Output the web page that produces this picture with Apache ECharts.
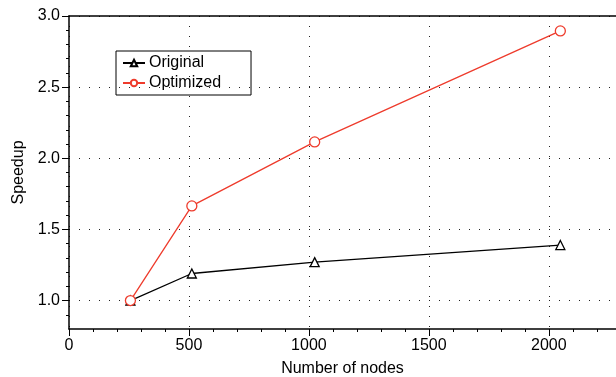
<!DOCTYPE html>
<html>
<head>
<meta charset="utf-8">
<script src="https://cdn.jsdelivr.net/npm/echarts@6/dist/echarts.min.js"></script>
<style>
  html, body { margin: 0; padding: 0; background: #fff; }
  #chart { width: 616px; height: 377px; }
</style>
</head>
<body>
<div id="chart"></div>
<script>
const nodes = [256, 512, 1024, 2048]
const original = [1.0, 1.19, 1.27, 1.39]
const optimized = [1.0, 1.665, 2.115, 2.895]

const xMajor = [0, 500, 1000, 1500, 2000]
const xMinor = [100, 200, 300, 400, 600, 700, 800, 900, 1100, 1200, 1300, 1400, 1600, 1700, 1800, 1900, 2100, 2200]
const yMajor = [1.0, 1.5, 2.0, 2.5, 3.0]
const yMinor = [0.9, 1.1, 1.2, 1.3, 1.4, 1.6, 1.7, 1.8, 1.9, 2.1, 2.2, 2.3, 2.4, 2.6, 2.7, 2.8, 2.9]

const font = 'Liberation Sans, Arial, Helvetica, sans-serif'
const fs = 16
const red = '#ee3b2c'
const dotted = { color: '#222', width: 1, type: [1, 9] }

const chart = echarts.init(document.getElementById('chart'))

chart.setOption({
  animation: false,
  textStyle: { fontFamily: font },
  grid: { left: 69, top: 16, right: 0, bottom: 48, outerBoundsMode: 'none', containLabel: false },
  legend: {
    orient: 'vertical',
    left: 116,
    top: 51,
    borderColor: '#000',
    borderWidth: 1,
    borderRadius: 0,
    padding: [4, 30, 4, 6],
    itemGap: 4,
    itemWidth: 22,
    itemHeight: 8,
    textStyle: { fontSize: fs, color: '#000', fontFamily: font, padding: [0, 0, 0, -1] },
    data: ['Original', 'Optimized'],
  },
  xAxis: [
    {
      type: 'value',
      min: 0,
      max: 2280,
      name: 'Number of nodes',
      nameLocation: 'middle',
      nameGap: 32,
      nameTextStyle: { fontSize: fs, color: '#000' },
      axisLine: { show: true, onZero: false, lineStyle: { color: '#000', width: 1.5 } },
      axisTick: { show: true, length: 7, customValues: xMajor, lineStyle: { color: '#000' } },
      axisLabel: { customValues: xMajor, fontSize: fs, color: '#000', margin: 9, formatter: (v) => String(v) },
      splitLine: { show: true, lineStyle: dotted },
    },
    {
      type: 'value',
      min: 0,
      max: 2280,
      position: 'bottom',
      axisLine: { show: false },
      axisTick: { show: true, length: 3, customValues: xMinor, lineStyle: { color: '#000' } },
      axisLabel: { show: false },
      splitLine: { show: false },
    },
    {
      type: 'value',
      min: 0,
      max: 2280,
      position: 'top',
      axisLine: { show: true, lineStyle: { color: '#000', width: 1.5 } },
      axisTick: { show: false },
      axisLabel: { show: false },
      splitLine: { show: false },
    },
  ],
  yAxis: [
    {
      type: 'value',
      min: 0.8,
      max: 3.0,
      name: 'Speedup',
      nameLocation: 'middle',
      nameGap: 42,
      nameTextStyle: { fontSize: fs, color: '#000' },
      axisLine: { show: true, onZero: false, lineStyle: { color: '#000', width: 1.5 } },
      axisTick: { show: true, length: 7, customValues: yMajor, lineStyle: { color: '#000' } },
      axisLabel: {
        customValues: yMajor,
        fontSize: fs,
        color: '#000',
        margin: 9,
        formatter: (v) => v.toFixed(1),
      },
      splitLine: { show: true, lineStyle: dotted },
    },
    {
      type: 'value',
      min: 0.8,
      max: 3.0,
      position: 'left',
      axisLine: { show: false },
      axisTick: { show: true, length: 3, customValues: yMinor, lineStyle: { color: '#000' } },
      axisLabel: { show: false },
      splitLine: { show: false },
    },
  ],
  series: [
    {
      name: 'Original',
      type: 'line',
      xAxisIndex: 0,
      yAxisIndex: 0,
      data: nodes.map((n, i) => [n, original[i]]),
      symbol: 'triangle',
      symbolSize: 9,
      showAllSymbol: true,
      lineStyle: { color: '#000', width: 1.3 },
      itemStyle: { color: '#fff', borderColor: '#000', borderWidth: 1.3 },
      z: 3,
    },
    {
      name: 'Optimized',
      type: 'line',
      xAxisIndex: 0,
      yAxisIndex: 0,
      data: nodes.map((n, i) => [n, optimized[i]]),
      symbol: 'circle',
      symbolSize: 10,
      showAllSymbol: true,
      lineStyle: { color: red, width: 1.3 },
      itemStyle: { color: '#fff', borderColor: red, borderWidth: 1.3 },
      z: 4,
    },
  ],
})
</script>
</body>
</html>
